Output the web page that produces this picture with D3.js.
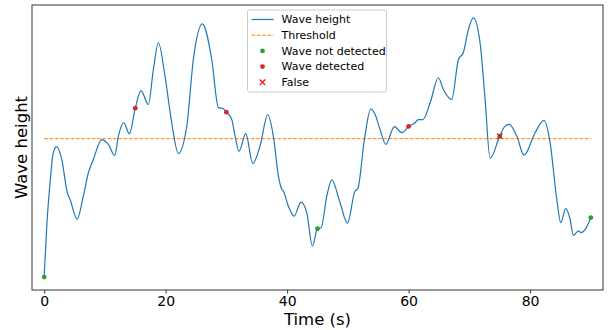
<!DOCTYPE html>
<html>
<head>
<meta charset="utf-8">
<script src="https://cdn.jsdelivr.net/npm/d3@7"></script>
<style>
  body { margin: 0; background: #fff; }
  text { font-family: "DejaVu Sans", sans-serif; fill: #000; }
</style>
</head>
<body>
<div class="chart"></div>
<script>
// wave height samples (time in s, height in arbitrary units)
const times = [0, 0.43, 0.97, 1.51, 2.07, 2.9, 3.82, 4.26, 5.42, 6.45, 7.28, 8.1, 9.48, 10.57, 11.62,
  12.22, 13.1, 14.03, 15, 15.95, 17.15, 17.98, 18.8, 19.9, 21.0, 22.09, 23.48, 24.56, 26.05, 27.59,
  28.68, 29.5, 30, 30.89, 31.43, 32.09, 33.19, 34.34, 35.54, 36.81, 37.73, 38.56, 39.12, 39.38, 40.2,
  41.14, 42.29, 43.23, 44.16, 45, 45.59, 46.53, 47.35, 48.72, 49.92, 51.18, 51.63, 52.72, 53.77, 54.48,
  55.3, 56.24, 57.66, 58.87, 60, 61.06, 61.6, 62.33, 63.55, 64.9, 65.72, 67.1, 68.2, 69.0, 69.84,
  70.66, 71.76, 72.59, 73.41, 75, 75.88, 76.54, 77.81, 79.0, 80.82, 82.3, 83.29, 84.39, 85.05, 85.87,
  86.58, 87.13, 87.95, 88.4, 89.1, 90];
const heights = [0.43, 2.22, 3.74, 4.80, 5.01, 4.56, 3.39, 3.16, 2.46, 3.27, 4.09, 4.56, 5.26, 5.09, 4.70,
  5.38, 5.85, 5.46, 6.36, 6.98, 6.49, 7.72, 8.66, 7.48, 5.85, 4.77, 5.73, 8.07, 9.32, 8.07,
  6.38, 6.34, 6.22, 5.96, 5.38, 4.85, 5.47, 4.42, 5.03, 6.13, 5.38, 3.98, 3.51, 3.45, 2.92,
  2.57, 3.06, 2.69, 1.52, 2.13, 2.16, 3.27, 3.84, 3.04, 2.32, 3.45, 3.53, 5.26, 6.34, 6.14,
  5.61, 5.09, 5.71, 5.50, 5.72, 5.85, 5.96, 5.96, 6.55, 7.43, 7.02, 6.67, 8.07, 8.31, 9.12,
  9.53, 8.66, 6.67, 4.60, 5.38, 5.73, 5.79, 5.38, 4.71, 5.50, 5.93, 5.15, 3.16, 2.34, 2.83,
  2.46, 1.89, 2.05, 1.99, 2.11, 2.52];
const threshold = 5.29;
const notDetected = [{t: 0, h: 0.43}, {t: 45, h: 2.13}, {t: 75, h: 5.38}, {t: 90, h: 2.52}];
const detected = [{t: 15, h: 6.36}, {t: 30, h: 6.22}, {t: 60, h: 5.72}];
const falseHits = [{t: 75, h: 5.38}];
const xTicks = [0, 20, 40, 60, 80];
const legendLabels = ['Wave height', 'Threshold', 'Wave not detected', 'Wave detected', 'False'];

const W = 613, H = 330;
const m = {left: 32, right: 10, top: 5, bottom: 40};
const blue = '#1f77b4', orange = '#ff7f0e', green = '#2ca02c', red = '#d62728';

let svg = d3.select('.chart').append('svg').attr('width', W).attr('height', H);

let data = times.map((t, i) => ({t: t, h: heights[i]}));
let hMin = d3.min(heights), hMax = d3.max(heights), pad = (hMax - hMin) * 0.05;

let x = d3.scaleLinear().domain([-2, 92]).range([m.left, W - m.right]);
let y = d3.scaleLinear().domain([hMin - pad, hMax + pad]).range([H - m.bottom, m.top]);

// threshold
svg.append('line')
    .attr('x1', x(0)).attr('x2', x(90))
    .attr('y1', y(threshold)).attr('y2', y(threshold))
    .attr('stroke', orange).attr('stroke-width', 1)
    .attr('stroke-dasharray', '3.7,1.6');

// wave
let line = d3.line().x(d => x(d.t)).y(d => y(d.h)).curve(d3.curveMonotoneX);
svg.append('path').datum(data)
    .attr('d', line)
    .attr('fill', 'none').attr('stroke', blue).attr('stroke-width', 1.2);

// markers
svg.selectAll('.nd').data(notDetected).enter().append('circle')
    .attr('cx', d => x(d.t)).attr('cy', d => y(d.h)).attr('r', 2.4).attr('fill', green);
svg.selectAll('.dt').data(detected).enter().append('circle')
    .attr('cx', d => x(d.t)).attr('cy', d => y(d.h)).attr('r', 2.4).attr('fill', red);
let cross = d3.symbol().type(d3.symbolX).size(22);
svg.selectAll('.fx').data(falseHits).enter().append('path')
    .attr('d', cross)
    .attr('transform', d => 'translate(' + x(d.t) + ',' + y(d.h) + ')')
    .attr('fill', 'none').attr('stroke', 'red').attr('stroke-width', 1.1);

// frame
svg.append('rect')
    .attr('x', m.left).attr('y', m.top)
    .attr('width', W - m.right - m.left).attr('height', H - m.bottom - m.top)
    .attr('fill', 'none').attr('stroke', '#333').attr('stroke-width', 1);

// x axis
let xAxis = svg.append('g')
    .attr('transform', 'translate(0,' + (H - m.bottom) + ')')
    .call(d3.axisBottom(x).tickValues(xTicks).tickSize(3.5).tickPadding(3));
xAxis.select('.domain').remove();
xAxis.selectAll('line').attr('stroke', '#333');
xAxis.selectAll('text').style('font-size', '14px').style('font-family', '"DejaVu Sans", sans-serif');

svg.append('text')
    .attr('x', (m.left + W - m.right) / 2).attr('y', 325)
    .attr('text-anchor', 'middle').style('font-size', '16.5px')
    .text('Time (s)');
svg.append('text')
    .attr('transform', 'translate(27,' + ((m.top + H - m.bottom) / 2) + ') rotate(-90)')
    .attr('text-anchor', 'middle').style('font-size', '16.5px')
    .text('Wave height');

// legend
let lg = svg.append('g').attr('transform', 'translate(247.5,10)');
lg.append('rect').attr('width', 139).attr('height', 82).attr('rx', 2)
    .attr('fill', '#fff').attr('fill-opacity', 0.8)
    .attr('stroke', '#ccc').attr('stroke-width', 1);
let rows = lg.selectAll('g.row').data(legendLabels).enter().append('g')
    .attr('transform', (d, i) => 'translate(0,' + (9.5 + i * 15.7) + ')');
rows.append('text').attr('x', 34).attr('dy', '0.35em').style('font-size', '11px').text(d => d);
rows.filter((d, i) => i === 0).append('line')
    .attr('x1', 4).attr('x2', 26).attr('stroke', blue).attr('stroke-width', 1.2);
rows.filter((d, i) => i === 1).append('line')
    .attr('x1', 4).attr('x2', 26).attr('stroke', orange).attr('stroke-width', 1)
    .attr('stroke-dasharray', '3.7,1.6');
rows.filter((d, i) => i === 2).append('circle').attr('cx', 15).attr('r', 2.4).attr('fill', green);
rows.filter((d, i) => i === 3).append('circle').attr('cx', 15).attr('r', 2.4).attr('fill', red);
rows.filter((d, i) => i === 4).append('path').attr('d', cross)
    .attr('transform', 'translate(15,0)')
    .attr('fill', 'none').attr('stroke', 'red').attr('stroke-width', 1.1);
</script>
</body>
</html>
